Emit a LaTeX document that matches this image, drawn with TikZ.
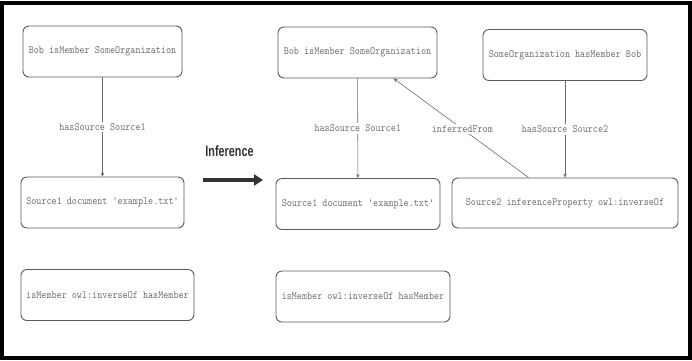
\documentclass[tikz,border=0pt]{standalone}
\usepackage{fontspec}
\usetikzlibrary{arrows.meta}
\newfontfamily\boxmono[FakeStretch=0.88]{Latin Modern Mono}
\newfontfamily\infsans[FakeStretch=0.72]{Liberation Sans}
\definecolor{txtgray}{HTML}{6E6E6E}
\definecolor{boxgray}{HTML}{5A5A5A}
\definecolor{linegray}{HTML}{6A6A6A}
\begin{document}
\begin{tikzpicture}[x=1pt,y=-1pt,
  stmt/.style={draw=boxgray, line width=0.9pt, rounded corners=6pt, fill=white,
    font=\boxmono\fontsize{11}{13}\selectfont, text=txtgray, inner sep=0pt,
    minimum height=51pt},
  link/.style={draw=linegray, line width=0.6pt, -{Stealth[length=4pt,width=3.5pt]}},
  elabel/.style={fill=white, inner sep=2pt, font=\boxmono\fontsize{11}{13}\selectfont, text=txtgray}]
\useasboundingbox (0,0) rectangle (692,360);
\draw[black, line width=4pt] (2,2.5) rectangle (690,358);
\draw[black, line width=1.5pt] (0,4.5) -- (692,4.5);
% left side
\node[stmt, minimum width=159pt] (A) at (102.5,51.5) {Bob isMember SomeOrganization};
\node[stmt, minimum width=163pt] (B) at (102.5,202.5) {Source1 document 'example.txt'};
\node[stmt, minimum width=173pt] (C) at (107.5,295) {isMember owl:inverseOf hasMember};
\draw[link] (A) -- node[elabel] (lA) {hasSource Source1} (B);
% inference arrow
\coordinate (i1) at (203,180);
\coordinate (i2) at (263,180);
\draw[line width=4pt, draw=black!80, -{Triangle[length=9pt,width=11pt]}] (i1) -- (i2);
\node[font=\infsans\bfseries\fontsize{15}{17}\selectfont, text=black!80] (inf) at (229.5,151) {Inference};
% right side
\node[stmt, minimum width=159pt] (D) at (357.5,52.5) {Bob isMember SomeOrganization};
\node[stmt, minimum width=164pt] (E) at (358,204) {Source1 document 'example.txt'};
\node[stmt, minimum width=164pt] (F) at (565,55) {SomeOrganization hasMember Bob};
\node[stmt, minimum width=226pt, minimum height=50pt] (G) at (565,203) {Source2 inferenceProperty owl:inverseOf};
\node[stmt, minimum width=174pt] (H) at (363,296.5) {isMember owl:inverseOf hasMember};
\draw[link] (D) -- node[elabel] (lD) {hasSource Source1} (E);
\draw[link] (F) -- node[elabel] (lF) {hasSource Source2} (F.south |- G.north);
\draw[link] ([xshift=77pt]G.north west) -- node[elabel, pos=0.49] (lG) {inferredFrom} ([xshift=116pt]D.south west);
\end{tikzpicture}
\end{document}
